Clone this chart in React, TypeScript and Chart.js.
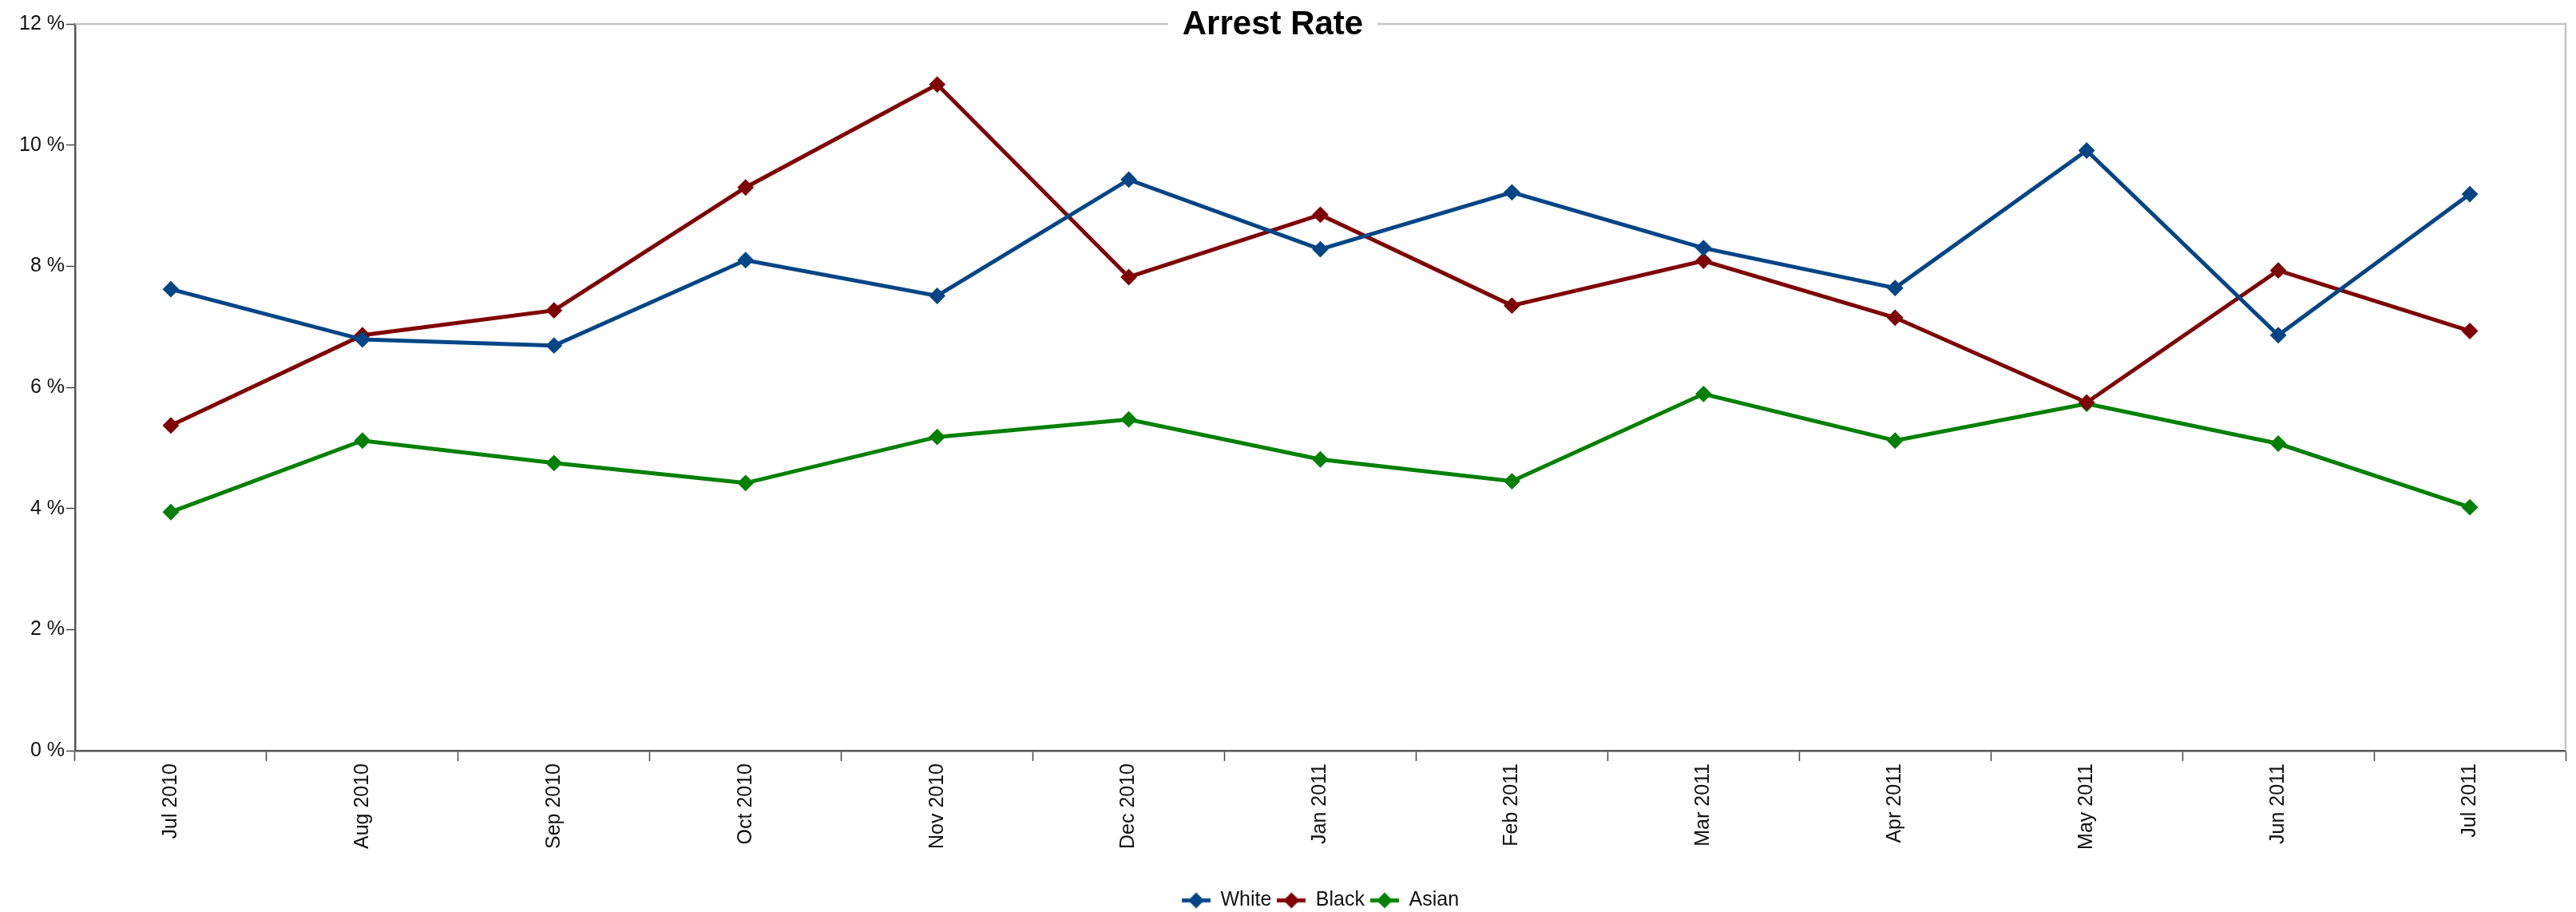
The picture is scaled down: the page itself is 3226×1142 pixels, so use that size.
import React, { useEffect, useRef } from "react";
import { Chart, registerables } from "chart.js";

Chart.register(...registerables);

const TITLE = "Arrest Rate";
const categories = [
  "Jul 2010", "Aug 2010", "Sep 2010", "Oct 2010", "Nov 2010", "Dec 2010",
  "Jan 2011", "Feb 2011", "Mar 2011", "Apr 2011", "May 2011", "Jun 2011", "Jul 2011",
];
const whiteRates = [7.62, 6.79, 6.69, 8.10, 7.51, 9.43, 8.28, 9.22, 8.30, 7.64, 9.91, 6.86, 9.19];
const blackRates = [5.37, 6.86, 7.27, 9.30, 11.0, 7.82, 8.85, 7.35, 8.09, 7.15, 5.75, 7.93, 6.93];
const asianRates = [3.94, 5.12, 4.75, 4.42, 5.18, 5.47, 4.81, 4.45, 5.89, 5.12, 5.73, 5.07, 4.02];
const seriesNames = ["White", "Black", "Asian"];
const seriesColors = ["#004586", "#7f0000", "#008000"];

const FONT = '"Liberation Sans", Arial, sans-serif';
const W = 3226;
const H = 1142;

function legendIcon(color: string) {
  const c = document.createElement("canvas");
  c.width = 36;
  c.height = 22;
  const g = c.getContext("2d")!;
  g.strokeStyle = color;
  g.lineWidth = 5;
  g.beginPath();
  g.moveTo(0, 11);
  g.lineTo(36, 11);
  g.stroke();
  g.fillStyle = color;
  g.beginPath();
  g.moveTo(18, 1);
  g.lineTo(28, 11);
  g.lineTo(18, 21);
  g.lineTo(8, 11);
  g.closePath();
  g.fill();
  return c;
}

const framePlugin = {
  id: "frameTitle",
  afterLayout(chart: any) {
    const lg = chart.legend;
    const a = chart.chartArea;
    if (lg && a) {
      lg.left = a.left;
      lg.right = a.right;
      lg.width = a.right - a.left;
      lg.top += 8;
      lg.bottom += 8;
    }
  },
  beforeDatasetsDraw(chart: any) {
    const { ctx, chartArea: a } = chart;
    ctx.save();
    ctx.strokeStyle = "#c4c4c4";
    ctx.lineWidth = 2.5;
    ctx.beginPath();
    ctx.moveTo(a.left, a.top);
    ctx.lineTo(a.right, a.top);
    ctx.lineTo(a.right, a.bottom);
    ctx.stroke();
    ctx.restore();
  },
  afterDraw(chart: any) {
    const { ctx, chartArea: a } = chart;
    ctx.save();
    ctx.font = "bold 42px " + FONT;
    const w = ctx.measureText(TITLE).width;
    const cx = chart.width / 2 - 19;
    ctx.fillStyle = "#ffffff";
    ctx.fillRect(cx - w / 2 - 18, a.top - 6, w + 36, 12);
    ctx.fillStyle = "#000000";
    ctx.textAlign = "center";
    ctx.textBaseline = "alphabetic";
    ctx.fillText(TITLE, cx, a.top + 13);
    ctx.restore();
  },
};

export default function App() {
  const ref = useRef<HTMLCanvasElement>(null);

  useEffect(() => {
    if (!ref.current) return;
    const icons = seriesColors.map(legendIcon);
    const data = [whiteRates, blackRates, asianRates];
    const chart = new Chart(ref.current, {
      type: "line",
      data: {
        labels: categories,
        datasets: seriesNames.map((name, i) => ({
          label: name,
          data: data[i],
          borderColor: seriesColors[i],
          backgroundColor: seriesColors[i],
          borderWidth: 5,
          pointStyle: "rectRot",
          pointRadius: 9,
          pointBorderWidth: 2,
          pointHoverRadius: 9,
          tension: 0,
          fill: false,
        })),
      },
      options: {
        responsive: false,
        animation: false,
        devicePixelRatio: 1,
        layout: { padding: { top: 30, right: 13, left: 0, bottom: 0 } },
        plugins: {
          title: { display: false },
          tooltip: { enabled: false },
          legend: {
            position: "bottom",
            labels: {
              usePointStyle: true,
              pointStyleWidth: 36,
              boxHeight: 22,
              padding: 7,
              color: "#111",
              font: { size: 25, family: FONT },
              generateLabels: (c: any) =>
                c.data.datasets.map((ds: any, i: number) => ({
                  text: ds.label,
                  pointStyle: icons[i],
                  fillStyle: ds.borderColor,
                  strokeStyle: ds.borderColor,
                  lineWidth: 0,
                  hidden: false,
                  datasetIndex: i,
                  fontColor: "#111",
                })),
            },
          },
        },
        scales: {
          x: {
            type: "category",
            offset: true,
            afterFit: (s: any) => {
              s.height = 160;
            },
            grid: {
              offset: true,
              drawOnChartArea: false,
              drawTicks: true,
              tickLength: 13,
              tickColor: "#444",
              tickWidth: 1.5,
            },
            border: { display: true, color: "#555", width: 2.5 },
            ticks: {
              maxRotation: 90,
              minRotation: 90,
              autoSkip: false,
              padding: 3,
              color: "#111",
              font: { size: 25, family: FONT },
            },
          },
          y: {
            min: 0,
            max: 12,
            afterFit: (s: any) => {
              s.width = 94;
            },
            grid: {
              drawOnChartArea: false,
              drawTicks: true,
              tickLength: 11,
              tickColor: "#444",
              tickWidth: 1.5,
            },
            border: { display: true, color: "#555", width: 2.5 },
            ticks: {
              stepSize: 2,
              padding: 2,
              color: "#111",
              font: { size: 25, family: FONT },
              callback: (v: any) => v + " %",
            },
          },
        },
      },
      plugins: [framePlugin],
    });
    return () => chart.destroy();
  }, []);

  return (
    <div style={{ position: "fixed", left: 0, top: 0, width: W, height: H, background: "#fff" }}>
      <canvas ref={ref} width={W} height={H} style={{ display: "block", width: W, height: H }} />
    </div>
  );
}
